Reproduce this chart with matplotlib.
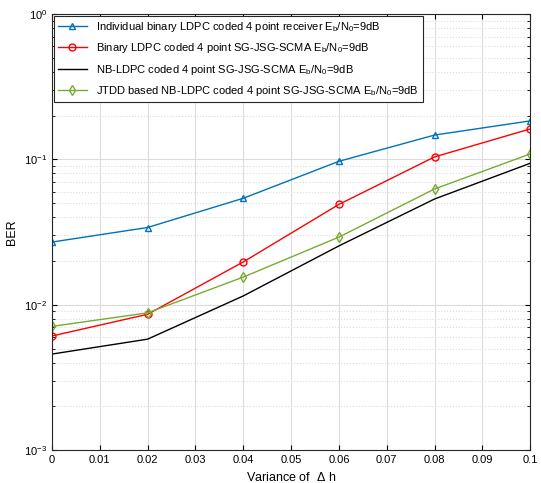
import matplotlib
matplotlib.use('Agg')
import matplotlib.pyplot as plt
from matplotlib.ticker import LogLocator, NullFormatter

plt.rcParams['font.family'] = ['Liberation Sans', 'DejaVu Sans']
plt.rcParams['mathtext.fontset'] = 'custom'
plt.rcParams['mathtext.rm'] = 'Liberation Sans'
plt.rcParams['mathtext.it'] = 'Liberation Sans'

# Daten
varianz = [0, 0.02, 0.04, 0.06, 0.08, 0.1]
ber_einzeln = [0.027, 0.034, 0.054, 0.097, 0.147, 0.184]
ber_binaer = [0.0061, 0.0086, 0.0197, 0.049, 0.104, 0.162]
ber_nb = [0.00458, 0.0058, 0.0115, 0.0254, 0.0534, 0.094]
ber_jtdd = [0.0071, 0.0088, 0.0155, 0.0292, 0.0626, 0.109]

x_ticks = [0, 0.01, 0.02, 0.03, 0.04, 0.05, 0.06, 0.07, 0.08, 0.09, 0.1]
x_tick_labels = ['0', '0.01', '0.02', '0.03', '0.04', '0.05', '0.06',
                 '0.07', '0.08', '0.09', '0.1']

labels = [
    r'Individual binary LDPC coded 4 point receiver E$_\mathrm{b}$/N$_\mathrm{0}$=9dB',
    r'Binary LDPC coded 4 point SG-JSG-SCMA E$_\mathrm{b}$/N$_\mathrm{0}$=9dB',
    r'NB-LDPC coded 4 point SG-JSG-SCMA E$_\mathrm{b}$/N$_\mathrm{0}$=9dB',
    r'JTDD based NB-LDPC coded 4 point SG-JSG-SCMA E$_\mathrm{b}$/N$_\mathrm{0}$=9dB',
]

fig = plt.figure(figsize=(5.41, 4.83), dpi=100)
ax = fig.add_axes([0.096, 0.068, 0.884, 0.903])

ax.semilogy(varianz, ber_einzeln, color='#0072BD', marker='^', markersize=5,
            markerfacecolor='none', linewidth=1, label=labels[0])
ax.semilogy(varianz, ber_binaer, color='#FF0000', marker='o', markersize=5,
            markerfacecolor='none', linewidth=1, label=labels[1])
ax.semilogy(varianz, ber_nb, color='black', linewidth=1, label=labels[2])
ax.semilogy(varianz, ber_jtdd, color='#77AC30', marker='d', markersize=5,
            markerfacecolor='none', linewidth=1, label=labels[3])

ax.set_xlim(0, 0.1)
ax.set_ylim(1e-3, 1)
ax.set_xticks(x_ticks)
ax.set_xticklabels(x_tick_labels)
ax.yaxis.set_minor_locator(LogLocator(base=10, subs=range(2, 10)))
ax.yaxis.set_minor_formatter(NullFormatter())

ax.grid(True, which='major', color='#dcdcdc', linewidth=0.8)
ax.grid(True, which='minor', axis='y', color='#dcdcdc', linestyle=':', linewidth=0.8)
ax.set_axisbelow(True)
ax.tick_params(which='both', direction='in', top=True, right=True, labelsize=8)
for s in ax.spines.values():
    s.set_color('#262626')

ax.set_xlabel(r'Variance of  $\Delta$ h', fontsize=9)
ax.set_ylabel('BER', fontsize=9)

leg = ax.legend(loc='upper left', fontsize=8, fancybox=False, framealpha=1,
                edgecolor='#262626', borderaxespad=0.15, handlelength=2.6,
                labelspacing=0.65, borderpad=0.4)
leg.get_frame().set_linewidth(0.8)

plt.savefig('out.png', dpi=100)
